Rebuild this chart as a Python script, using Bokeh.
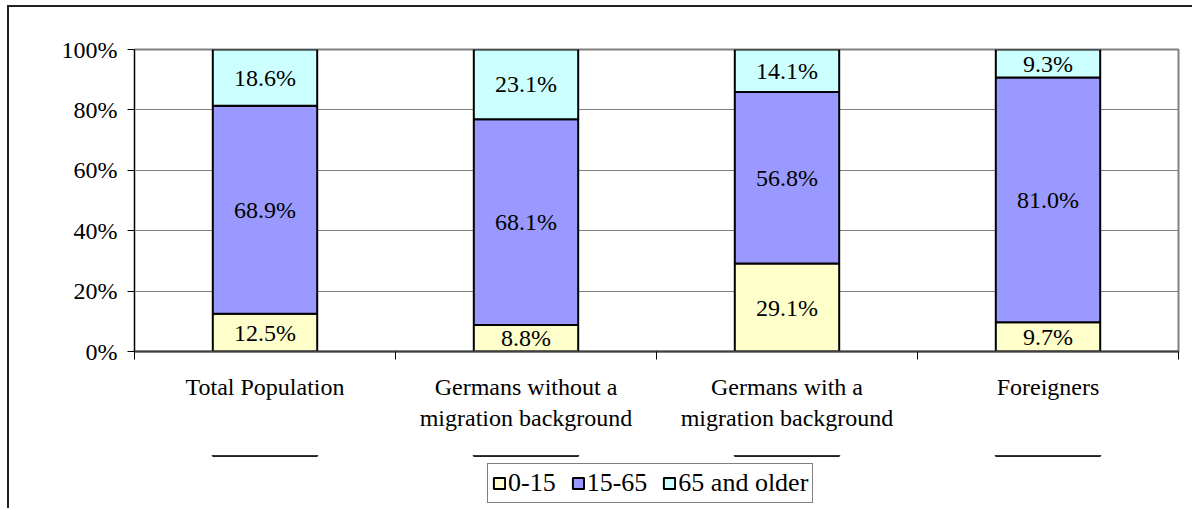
from bokeh.plotting import figure
from bokeh.layouts import column
from bokeh.models import (ColumnDataSource, FixedTicker, PrintfTickFormatter, Legend, LegendItem, Range1d)
from bokeh.core.properties import value
from bokeh.embed import file_html
from bokeh.resources import INLINE

categories = ["Total Population", "Germans without a\nmigration background",
              "Germans with a\nmigration background", "Foreigners"]
groups = ["0-15", "15-65", "65 and older"]
age_0_15 = [12.5, 8.8, 29.1, 9.7]
age_15_65 = [68.9, 68.1, 56.8, 81.0]
age_65_plus = [18.6, 23.1, 14.1, 9.3]
y_ticks = [0, 20, 40, 60, 80, 100]

colors = ["#FFFFCC", "#9999FF", "#CCFFFF"]
FONT = "'Liberation Serif', 'Times New Roman', serif"

xs = [i + 0.5 for i in range(len(categories))]
src = ColumnDataSource(dict(x=xs, a=age_0_15, b=age_15_65, c=age_65_plus))

p = figure(width=1185, height=450, output_backend="svg", toolbar_location=None,
           x_range=Range1d(0, len(categories)), y_range=Range1d(0, 100),
           min_border_left=125, min_border_right=16, min_border_top=42, min_border_bottom=106)
p.margin = (5, 0, 0, 7)
p.styles = {"border-top": "2px solid #222", "border-left": "2px solid #222"}

rs = p.vbar_stack(["a", "b", "c"], x="x", width=0.4, source=src,
                  fill_color=colors, line_color="black", line_width=2)

# segment labels
series = [age_0_15, age_15_65, age_65_plus]
lx, ly, lt = [], [], []
for i in range(len(categories)):
    base = 0.0
    for s in series:
        lx.append(xs[i]); ly.append(base + s[i] / 2.0); lt.append(f"{s[i]:.1f}%")
        base += s[i]
p.text(x=lx, y=ly, text=lt, text_align="center", text_baseline="middle",
       text_font=value(FONT), text_font_size="24px", text_color="black")

# axes
p.yaxis.ticker = FixedTicker(ticks=y_ticks)
p.yaxis.formatter = PrintfTickFormatter(format="%d%%")
p.yaxis.axis_line_color = "black"
p.yaxis.axis_line_width = 1
p.yaxis.major_tick_out = 7
p.yaxis.major_tick_in = 0
p.yaxis.minor_tick_line_color = None
p.yaxis.major_label_text_font = FONT
p.yaxis.major_label_text_font_size = "24px"
p.yaxis.major_label_text_color = "black"
p.yaxis.major_label_standoff = 10

p.xaxis.ticker = FixedTicker(ticks=xs, minor_ticks=list(range(len(categories) + 1)))
p.xaxis.major_label_overrides = {x: c for x, c in zip(xs, categories)}
p.xaxis.major_tick_line_color = None
p.xaxis.minor_tick_out = 8
p.xaxis.minor_tick_in = 0
p.xaxis.minor_tick_line_color = "black"
p.xaxis.axis_line_color = "#404040"
p.xaxis.axis_line_width = 2
p.xaxis.major_label_text_font = FONT
p.xaxis.major_label_text_font_size = "24px"
p.xaxis.major_label_text_color = "black"
p.xaxis.major_label_standoff = 14

p.xgrid.grid_line_color = None
p.ygrid.ticker = FixedTicker(ticks=y_ticks)
p.ygrid.grid_line_color = "#808080"
p.ygrid.grid_line_width = 1
p.outline_line_color = "#808080"
p.outline_line_width = 2

# legend panel (separate strip below the chart); its bars lie far outside its view range
lg = figure(width=1185, height=53, output_backend="svg", toolbar_location=None,
            x_range=Range1d(0, len(categories)), y_range=Range1d(-20, -10),
            min_border_left=0, min_border_right=0, min_border_top=0, min_border_bottom=0)
lg.margin = (0, 0, 0, 7)
lg.styles = {"border-left": "2px solid #222"}
lg.axis.visible = False
lg.grid.visible = False
lg.outline_line_color = None
lrs = lg.vbar_stack(["a", "b", "c"], x="x", width=0.4, source=src,
                    fill_color=colors, line_color="black", line_width=2)

legend = Legend(items=[LegendItem(label=g, renderers=[r]) for g, r in zip(groups, lrs)],
                orientation="horizontal", location=(353, 5))
legend.border_line_color = "black"
legend.border_line_width = 1
legend.background_fill_color = "white"
legend.background_fill_alpha = 1
legend.label_text_font = FONT
legend.label_text_font_size = "26px"
legend.label_text_color = "black"
legend.glyph_width = 14
legend.glyph_height = 14
legend.label_standoff = 2
legend.spacing = 15
legend.padding = 4
legend.margin = 0
lg.add_layout(legend, "center")

layout = column(p, lg, spacing=0)
open("out.html", "w").write(file_html(layout, INLINE))
